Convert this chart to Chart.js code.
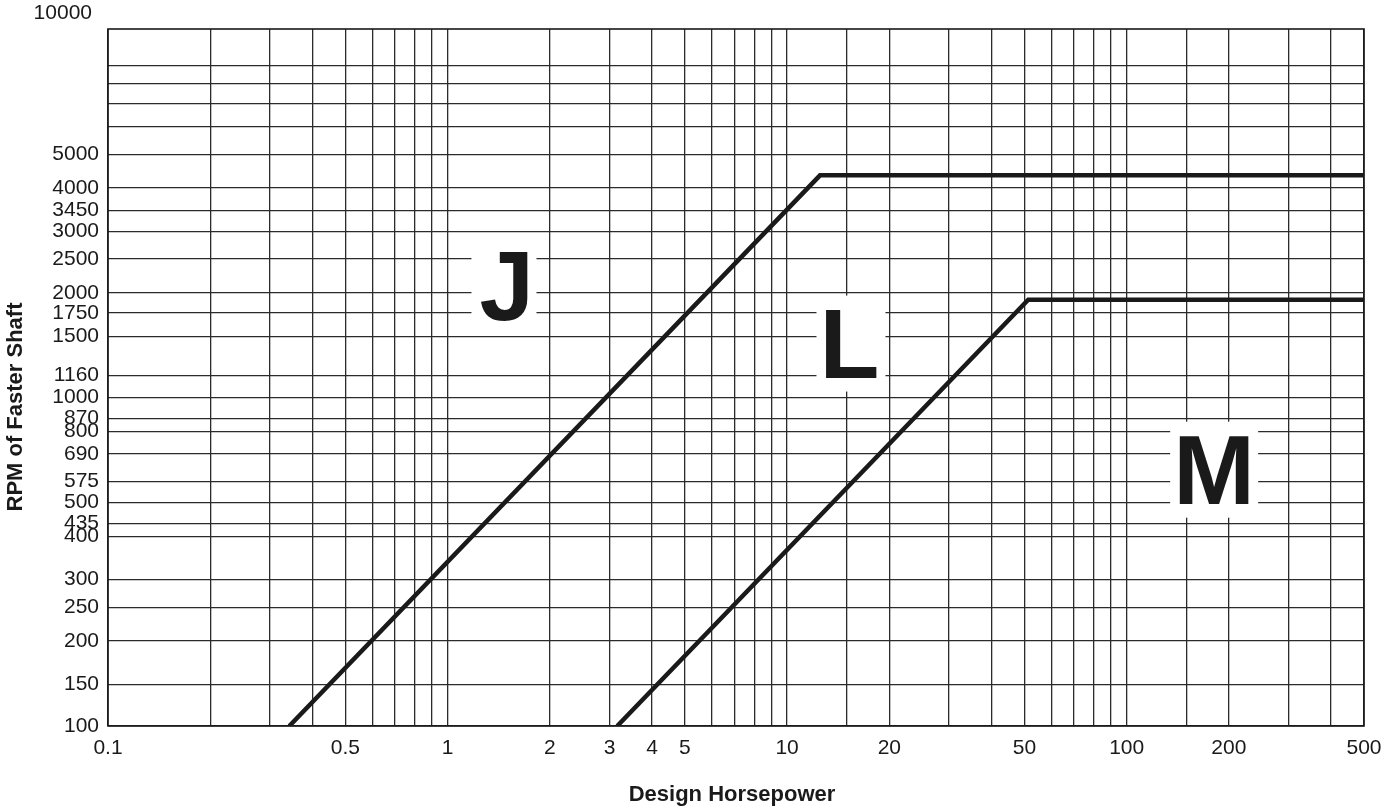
<!DOCTYPE html>
<html>
<head>
<meta charset="utf-8">
<script src="https://cdn.jsdelivr.net/npm/chart.js@4.4.0/dist/chart.umd.min.js"></script>
<style>
  html, body { margin: 0; padding: 0; background: #fff; }
  #wrap { width: 1382px; height: 808px; }
</style>
</head>
<body>
<div id="wrap"><canvas id="chart" width="1382" height="808"></canvas></div>
<script>
// belt selection lines
const jHp = [0.342, 12.5, 500];
const jRpm = [114, 4350, 4350];
const lHp = [3.16, 51.3, 500];
const lRpm = [114, 1912, 1912];

// grid / tick values (the "100" line sits at ~114 on a true log scale)
const xTickValues = [0.1, 0.2, 0.3, 0.4, 0.5, 0.6, 0.7, 0.8, 0.9, 1, 2, 3, 4, 5, 6, 7, 8, 9, 10, 15, 20, 30, 40, 50, 60, 70, 80, 90, 100, 150, 200, 300, 400, 500];
const xTickLabels = ['0.1', '', '', '', '0.5', '', '', '', '', '1', '2', '3', '4', '5', '', '', '', '', '10', '', '20', '', '', '50', '', '', '', '', '100', '', '200', '', '', '500'];
const yTickValues = [114, 150, 200, 250, 300, 400, 435, 500, 575, 690, 800, 870, 1000, 1160, 1500, 1750, 2000, 2500, 3000, 3450, 4000, 5000, 6000, 7000, 8000, 9000];
const yTickLabels = ['100', '150', '200', '250', '300', '400', '435', '500', '575', '690', '800', '870', '1000', '1160', '1500', '1750', '2000', '2500', '3000', '3450', '4000', '5000', '', '', '', ''];

// big region letters
const regionNames = ['J', 'L', 'M'];
const regionHp = [1.466, 15.42, 181];
const regionRpm = [2086, 1430, 621];

const FONT = '"Liberation Sans", Arial, Helvetica, sans-serif';
const INK = '#1a1a1a';
const GRID = '#2b2b2b';

const extras = {
    id: 'extras',
    beforeDatasetsDraw(chart) {
        const { ctx, chartArea: a } = chart;
        ctx.save();
        ctx.strokeStyle = INK;
        ctx.lineWidth = 1.6;
        ctx.strokeRect(a.left, a.top, a.right - a.left, a.bottom - a.top);
        ctx.restore();
    },
    afterDraw(chart) {
        const { ctx } = chart;
        const xs = chart.scales.x, ys = chart.scales.y;
        ctx.save();
        ctx.fillStyle = INK;

        // region letters on white patches
        ctx.font = 'bold 98px ' + FONT;
        regionNames.forEach((name, i) => {
            const cx = xs.getPixelForValue(regionHp[i]);
            const cy = ys.getPixelForValue(regionRpm[i]);
            const m = ctx.measureText(name);
            const inkW = m.actualBoundingBoxLeft + m.actualBoundingBoxRight;
            const capH = m.actualBoundingBoxAscent;
            ctx.fillStyle = '#fff';
            ctx.fillRect(cx - inkW / 2 - 9, cy - 48, inkW + 18, 96);
            ctx.fillStyle = INK;
            ctx.textAlign = 'left';
            ctx.textBaseline = 'alphabetic';
            ctx.fillText(name, cx - inkW / 2 + m.actualBoundingBoxLeft, cy + capH / 2);
        });

        // top label that sits above the frame
        ctx.font = '21px ' + FONT;
        ctx.textAlign = 'right';
        ctx.textBaseline = 'middle';
        ctx.fillText('10000', 92, 13);

        // axis titles
        ctx.font = 'bold 22px ' + FONT;
        ctx.textAlign = 'center';
        ctx.fillText('Design Horsepower', 732, 795);
        ctx.translate(16, 407);
        ctx.rotate(-Math.PI / 2);
        ctx.fillText('RPM of Faster Shaft', 0, 0);
        ctx.restore();
    }
};

const lineStyle = {
    borderColor: INK,
    borderWidth: 4.5,
    pointRadius: 0,
    fill: false,
    tension: 0,
    borderJoinStyle: 'miter',
};

new Chart(document.getElementById('chart'), {
    type: 'line',
    data: {
        datasets: [
            { label: 'J', data: jHp.map((x, i) => ({ x, y: jRpm[i] })), ...lineStyle },
            { label: 'L', data: lHp.map((x, i) => ({ x, y: lRpm[i] })), ...lineStyle },
        ],
    },
    options: {
        responsive: false,
        animation: false,
        layout: { padding: { top: 29, right: 18, left: 0, bottom: 0 } },
        plugins: { legend: { display: false }, tooltip: { enabled: false } },
        scales: {
            x: {
                type: 'logarithmic',
                min: 0.1,
                max: 500,
                afterBuildTicks: (s) => { s.ticks = xTickValues.map(v => ({ value: v })); },
                afterFit: (s) => { s.height = 82; s.paddingLeft = 0; s.paddingRight = 0; },
                grid: { color: GRID, lineWidth: 1.3, drawTicks: false },
                border: { display: false },
                ticks: {
                    autoSkip: false,
                    maxRotation: 0,
                    padding: 10,
                    color: INK,
                    font: { family: FONT, size: 21 },
                    callback: (v, i) => xTickLabels[i],
                },
            },
            y: {
                type: 'logarithmic',
                min: 114,
                max: 11450,
                afterBuildTicks: (s) => { s.ticks = yTickValues.map(v => ({ value: v })); },
                afterFit: (s) => { s.width = 108; s.paddingTop = 0; s.paddingBottom = 0; },
                grid: { color: GRID, lineWidth: 1.3, drawTicks: false },
                border: { display: false },
                ticks: {
                    autoSkip: false,
                    padding: 9,
                    color: INK,
                    font: { family: FONT, size: 21 },
                    callback: (v, i) => yTickLabels[i],
                },
            },
        },
    },
    plugins: [extras],
});
</script>
</body>
</html>
